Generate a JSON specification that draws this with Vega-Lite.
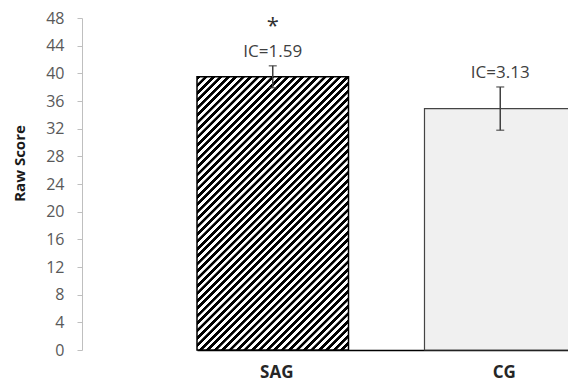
{
  "$schema": "https://vega.github.io/schema/vega-lite/v6.json",
  "width": 486,
  "height": 332,
  "autosize": {"type": "none"},
  "padding": {"left": 82, "top": 18, "right": 0, "bottom": 33},
  "background": "#ffffff",
  "config": {"view": {"stroke": null}},
  "data": {
    "values": [
      {"group": "SAG", "mean": 39.5, "lo": 37.91, "hi": 41.09, "label": "IC=1.59", "star": "*"},
      {"group": "CG", "mean": 34.9, "lo": 31.77, "hi": 38.03, "label": "IC=3.13", "star": ""}
    ]
  },
  "encoding": {
    "x": {
      "field": "group",
      "type": "nominal",
      "sort": null,
      "scale": {"domain": ["SAG", "CG"], "range": [115, 494], "paddingInner": 0.334, "paddingOuter": 0},
      "axis": {
        "title": null,
        "orient": "bottom",
        "domainColor": "#000000",
        "domainWidth": 1.5,
        "ticks": false,
        "labelAngle": 0,
        "labelFont": "Open Sans",
        "labelFontSize": 17,
        "labelFontWeight": "bold",
        "labelColor": "#262626",
        "labelPadding": 14,
        "labelOffset": 4
      }
    }
  },
  "layer": [
    {
      "transform": [{"filter": "datum.group === 'SAG'"}],
      "mark": {
        "type": "bar",
        "stroke": "#000000",
        "strokeWidth": 1.5,
        "fill": {
          "gradient": "linear",
          "x1": 0, "y1": 0, "x2": 0.658, "y2": 1.189,
          "stops": [
            {"offset": 0, "color": "#000"}, {"offset": 0.008, "color": "#000"}, {"offset": 0.009, "color": "#fff"}, {"offset": 0.0165, "color": "#fff"},
            {"offset": 0.0175, "color": "#000"}, {"offset": 0.0255, "color": "#000"}, {"offset": 0.0265, "color": "#fff"}, {"offset": 0.034, "color": "#fff"},
            {"offset": 0.035, "color": "#000"}, {"offset": 0.043, "color": "#000"}, {"offset": 0.044, "color": "#fff"}, {"offset": 0.0515, "color": "#fff"},
            {"offset": 0.0525, "color": "#000"}, {"offset": 0.0605, "color": "#000"}, {"offset": 0.0615, "color": "#fff"}, {"offset": 0.069, "color": "#fff"},
            {"offset": 0.07, "color": "#000"}, {"offset": 0.078, "color": "#000"}, {"offset": 0.079, "color": "#fff"}, {"offset": 0.0865, "color": "#fff"},
            {"offset": 0.0875, "color": "#000"}, {"offset": 0.0955, "color": "#000"}, {"offset": 0.0965, "color": "#fff"}, {"offset": 0.104, "color": "#fff"},
            {"offset": 0.105, "color": "#000"}, {"offset": 0.113, "color": "#000"}, {"offset": 0.114, "color": "#fff"}, {"offset": 0.1215, "color": "#fff"},
            {"offset": 0.1225, "color": "#000"}, {"offset": 0.1305, "color": "#000"}, {"offset": 0.1315, "color": "#fff"}, {"offset": 0.139, "color": "#fff"},
            {"offset": 0.14, "color": "#000"}, {"offset": 0.148, "color": "#000"}, {"offset": 0.149, "color": "#fff"}, {"offset": 0.1565, "color": "#fff"},
            {"offset": 0.1575, "color": "#000"}, {"offset": 0.1655, "color": "#000"}, {"offset": 0.1665, "color": "#fff"}, {"offset": 0.174, "color": "#fff"},
            {"offset": 0.175, "color": "#000"}, {"offset": 0.183, "color": "#000"}, {"offset": 0.184, "color": "#fff"}, {"offset": 0.1915, "color": "#fff"},
            {"offset": 0.1925, "color": "#000"}, {"offset": 0.2005, "color": "#000"}, {"offset": 0.2015, "color": "#fff"}, {"offset": 0.209, "color": "#fff"},
            {"offset": 0.21, "color": "#000"}, {"offset": 0.218, "color": "#000"}, {"offset": 0.219, "color": "#fff"}, {"offset": 0.2265, "color": "#fff"},
            {"offset": 0.2275, "color": "#000"}, {"offset": 0.2355, "color": "#000"}, {"offset": 0.2365, "color": "#fff"}, {"offset": 0.244, "color": "#fff"},
            {"offset": 0.245, "color": "#000"}, {"offset": 0.253, "color": "#000"}, {"offset": 0.254, "color": "#fff"}, {"offset": 0.2615, "color": "#fff"},
            {"offset": 0.2625, "color": "#000"}, {"offset": 0.2705, "color": "#000"}, {"offset": 0.2715, "color": "#fff"}, {"offset": 0.279, "color": "#fff"},
            {"offset": 0.28, "color": "#000"}, {"offset": 0.288, "color": "#000"}, {"offset": 0.289, "color": "#fff"}, {"offset": 0.2965, "color": "#fff"},
            {"offset": 0.2975, "color": "#000"}, {"offset": 0.3055, "color": "#000"}, {"offset": 0.3065, "color": "#fff"}, {"offset": 0.314, "color": "#fff"},
            {"offset": 0.315, "color": "#000"}, {"offset": 0.323, "color": "#000"}, {"offset": 0.324, "color": "#fff"}, {"offset": 0.3315, "color": "#fff"},
            {"offset": 0.3325, "color": "#000"}, {"offset": 0.3405, "color": "#000"}, {"offset": 0.3415, "color": "#fff"}, {"offset": 0.349, "color": "#fff"},
            {"offset": 0.35, "color": "#000"}, {"offset": 0.358, "color": "#000"}, {"offset": 0.359, "color": "#fff"}, {"offset": 0.3665, "color": "#fff"},
            {"offset": 0.3675, "color": "#000"}, {"offset": 0.3755, "color": "#000"}, {"offset": 0.3765, "color": "#fff"}, {"offset": 0.384, "color": "#fff"},
            {"offset": 0.385, "color": "#000"}, {"offset": 0.393, "color": "#000"}, {"offset": 0.394, "color": "#fff"}, {"offset": 0.4015, "color": "#fff"},
            {"offset": 0.4025, "color": "#000"}, {"offset": 0.4105, "color": "#000"}, {"offset": 0.4115, "color": "#fff"}, {"offset": 0.419, "color": "#fff"},
            {"offset": 0.42, "color": "#000"}, {"offset": 0.428, "color": "#000"}, {"offset": 0.429, "color": "#fff"}, {"offset": 0.4365, "color": "#fff"},
            {"offset": 0.4375, "color": "#000"}, {"offset": 0.4455, "color": "#000"}, {"offset": 0.4465, "color": "#fff"}, {"offset": 0.454, "color": "#fff"},
            {"offset": 0.455, "color": "#000"}, {"offset": 0.463, "color": "#000"}, {"offset": 0.464, "color": "#fff"}, {"offset": 0.4715, "color": "#fff"},
            {"offset": 0.4725, "color": "#000"}, {"offset": 0.4805, "color": "#000"}, {"offset": 0.4815, "color": "#fff"}, {"offset": 0.489, "color": "#fff"},
            {"offset": 0.49, "color": "#000"}, {"offset": 0.498, "color": "#000"}, {"offset": 0.499, "color": "#fff"}, {"offset": 0.5065, "color": "#fff"},
            {"offset": 0.5075, "color": "#000"}, {"offset": 0.5155, "color": "#000"}, {"offset": 0.5165, "color": "#fff"}, {"offset": 0.524, "color": "#fff"},
            {"offset": 0.525, "color": "#000"}, {"offset": 0.533, "color": "#000"}, {"offset": 0.534, "color": "#fff"}, {"offset": 0.5415, "color": "#fff"},
            {"offset": 0.5425, "color": "#000"}, {"offset": 0.5505, "color": "#000"}, {"offset": 0.5515, "color": "#fff"}, {"offset": 0.559, "color": "#fff"},
            {"offset": 0.56, "color": "#000"}, {"offset": 0.568, "color": "#000"}, {"offset": 0.569, "color": "#fff"}, {"offset": 0.5765, "color": "#fff"},
            {"offset": 0.5775, "color": "#000"}, {"offset": 0.5855, "color": "#000"}, {"offset": 0.5865, "color": "#fff"}, {"offset": 0.594, "color": "#fff"},
            {"offset": 0.595, "color": "#000"}, {"offset": 0.603, "color": "#000"}, {"offset": 0.604, "color": "#fff"}, {"offset": 0.6115, "color": "#fff"},
            {"offset": 0.6125, "color": "#000"}, {"offset": 0.6205, "color": "#000"}, {"offset": 0.6215, "color": "#fff"}, {"offset": 0.629, "color": "#fff"},
            {"offset": 0.63, "color": "#000"}, {"offset": 0.638, "color": "#000"}, {"offset": 0.639, "color": "#fff"}, {"offset": 0.6465, "color": "#fff"},
            {"offset": 0.6475, "color": "#000"}, {"offset": 0.6555, "color": "#000"}, {"offset": 0.6565, "color": "#fff"}, {"offset": 0.664, "color": "#fff"},
            {"offset": 0.665, "color": "#000"}, {"offset": 0.673, "color": "#000"}, {"offset": 0.674, "color": "#fff"}, {"offset": 0.6815, "color": "#fff"},
            {"offset": 0.6825, "color": "#000"}, {"offset": 0.6905, "color": "#000"}, {"offset": 0.6915, "color": "#fff"}, {"offset": 0.699, "color": "#fff"},
            {"offset": 0.7, "color": "#000"}, {"offset": 0.708, "color": "#000"}, {"offset": 0.709, "color": "#fff"}, {"offset": 0.7165, "color": "#fff"},
            {"offset": 0.7175, "color": "#000"}, {"offset": 0.7255, "color": "#000"}, {"offset": 0.7265, "color": "#fff"}, {"offset": 0.734, "color": "#fff"},
            {"offset": 0.735, "color": "#000"}, {"offset": 0.743, "color": "#000"}, {"offset": 0.744, "color": "#fff"}, {"offset": 0.7515, "color": "#fff"},
            {"offset": 0.7525, "color": "#000"}, {"offset": 0.7605, "color": "#000"}, {"offset": 0.7615, "color": "#fff"}, {"offset": 0.769, "color": "#fff"},
            {"offset": 0.77, "color": "#000"}, {"offset": 0.778, "color": "#000"}, {"offset": 0.779, "color": "#fff"}, {"offset": 0.7865, "color": "#fff"},
            {"offset": 0.7875, "color": "#000"}, {"offset": 0.7955, "color": "#000"}, {"offset": 0.7965, "color": "#fff"}, {"offset": 0.804, "color": "#fff"},
            {"offset": 0.805, "color": "#000"}, {"offset": 0.813, "color": "#000"}, {"offset": 0.814, "color": "#fff"}, {"offset": 0.8215, "color": "#fff"},
            {"offset": 0.8225, "color": "#000"}, {"offset": 0.8305, "color": "#000"}, {"offset": 0.8315, "color": "#fff"}, {"offset": 0.839, "color": "#fff"},
            {"offset": 0.84, "color": "#000"}, {"offset": 0.848, "color": "#000"}, {"offset": 0.849, "color": "#fff"}, {"offset": 0.8565, "color": "#fff"},
            {"offset": 0.8575, "color": "#000"}, {"offset": 0.8655, "color": "#000"}, {"offset": 0.8665, "color": "#fff"}, {"offset": 0.874, "color": "#fff"},
            {"offset": 0.875, "color": "#000"}, {"offset": 0.883, "color": "#000"}, {"offset": 0.884, "color": "#fff"}, {"offset": 0.8915, "color": "#fff"},
            {"offset": 0.8925, "color": "#000"}, {"offset": 0.9005, "color": "#000"}, {"offset": 0.9015, "color": "#fff"}, {"offset": 0.909, "color": "#fff"},
            {"offset": 0.91, "color": "#000"}, {"offset": 0.918, "color": "#000"}, {"offset": 0.919, "color": "#fff"}, {"offset": 0.9265, "color": "#fff"},
            {"offset": 0.9275, "color": "#000"}, {"offset": 0.9355, "color": "#000"}, {"offset": 0.9365, "color": "#fff"}, {"offset": 0.944, "color": "#fff"},
            {"offset": 0.945, "color": "#000"}, {"offset": 0.953, "color": "#000"}, {"offset": 0.954, "color": "#fff"}, {"offset": 0.9615, "color": "#fff"},
            {"offset": 0.9625, "color": "#000"}, {"offset": 0.9705, "color": "#000"}, {"offset": 0.9715, "color": "#fff"}, {"offset": 0.979, "color": "#fff"},
            {"offset": 0.98, "color": "#000"}, {"offset": 0.988, "color": "#000"}, {"offset": 0.989, "color": "#fff"}, {"offset": 0.9965, "color": "#fff"},
            {"offset": 0.9975, "color": "#000"}, {"offset": 1, "color": "#000"}
          ]
        }
      },
      "encoding": {
        "y": {
          "field": "mean",
          "type": "quantitative",
          "scale": {"domain": [0, 48], "nice": false, "zero": true},
          "axis": {
            "title": "Raw Score",
            "values": [0, 4, 8, 12, 16, 20, 24, 28, 32, 36, 40, 44, 48],
            "labelOverlap": false,
            "grid": false,
            "domainColor": "#bfbfbf",
            "domainWidth": 1,
            "tickColor": "#bfbfbf",
            "tickSize": 5,
            "labelPadding": 13,
            "labelFont": "Open Sans",
            "labelFontSize": 16,
            "labelColor": "#595959",
            "titleFont": "Open Sans",
            "titleFontSize": 15,
            "titleFontWeight": "bold",
            "titleColor": "#1a1a1a",
            "titleX": -63,
            "titleY": 145,
            "titleAngle": -90,
            "titleAlign": "center",
            "titleBaseline": "middle"
          }
        }
      }
    },
    {
      "transform": [{"filter": "datum.group === 'CG'"}],
      "mark": {"type": "bar", "fill": "#f0f0f0", "stroke": "#444444", "strokeWidth": 1.2},
      "encoding": {"y": {"field": "mean", "type": "quantitative", "axis": {"values": [0, 4, 8, 12, 16, 20, 24, 28, 32, 36, 40, 44, 48], "labelOverlap": false}}}
    },
    {
      "mark": {"type": "rule", "color": "#404040", "strokeWidth": 1.5},
      "encoding": {
        "y": {"field": "lo", "type": "quantitative", "axis": {"values": [0, 4, 8, 12, 16, 20, 24, 28, 32, 36, 40, 44, 48], "labelOverlap": false}},
        "y2": {"field": "hi"}
      }
    },
    {
      "mark": {"type": "tick", "color": "#404040", "size": 8, "thickness": 1.5},
      "encoding": {"y": {"field": "lo", "type": "quantitative", "axis": {"values": [0, 4, 8, 12, 16, 20, 24, 28, 32, 36, 40, 44, 48], "labelOverlap": false}}}
    },
    {
      "mark": {"type": "tick", "color": "#404040", "size": 8, "thickness": 1.5},
      "encoding": {"y": {"field": "hi", "type": "quantitative", "axis": {"values": [0, 4, 8, 12, 16, 20, 24, 28, 32, 36, 40, 44, 48], "labelOverlap": false}}}
    },
    {
      "mark": {"type": "text", "font": "Open Sans", "fontSize": 17, "color": "#404040", "baseline": "alphabetic", "dy": -9},
      "encoding": {
        "y": {"field": "hi", "type": "quantitative", "axis": {"values": [0, 4, 8, 12, 16, 20, 24, 28, 32, 36, 40, 44, 48], "labelOverlap": false}},
        "text": {"field": "label"}
      }
    },
    {
      "mark": {"type": "text", "font": "Open Sans", "fontSize": 22, "color": "#303030", "baseline": "alphabetic", "dy": -33},
      "encoding": {
        "y": {"field": "hi", "type": "quantitative", "axis": {"values": [0, 4, 8, 12, 16, 20, 24, 28, 32, 36, 40, 44, 48], "labelOverlap": false}},
        "text": {"field": "star"}
      }
    }
  ]
}
